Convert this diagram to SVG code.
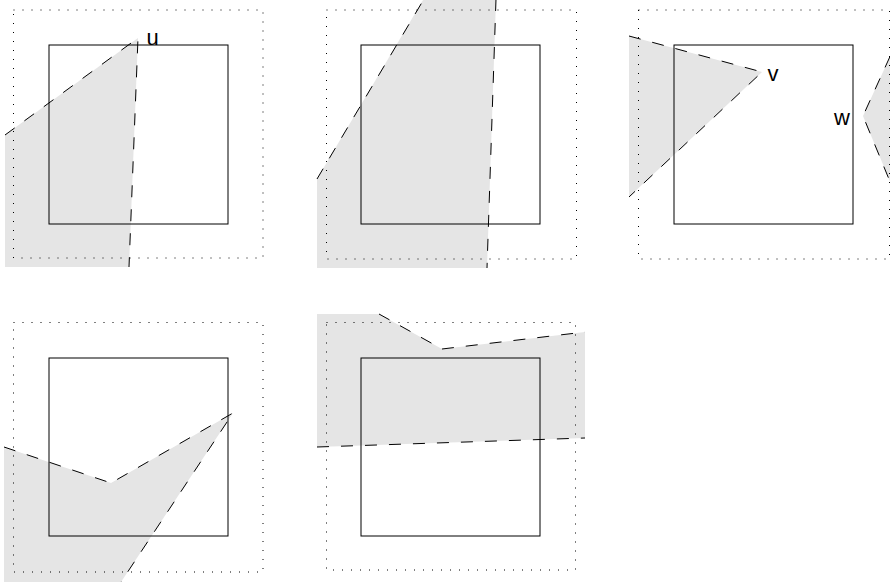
<svg xmlns="http://www.w3.org/2000/svg" width="890" height="582" viewBox="0 0 890 582">
<style>
.bg{fill:#ffffff}
.reg{fill:#e5e5e5;stroke:none}
.dash{fill:none;stroke:#000;stroke-width:1;stroke-dasharray:12,12}
.dot{fill:none;stroke:#000;stroke-width:1;stroke-dasharray:1,8}
.box{fill:none;stroke:#000;stroke-width:1}
.lbl{font-family:"Liberation Sans",Arial,sans-serif;font-size:22px;fill:#000}
</style>
<rect class="bg" x="0" y="0" width="890" height="582"/>
<g id="panel1">
  <polygon class="reg" points="5,135 138,38 129,267 5,267"/>
  <rect class="dot" x="13.5" y="10" width="249.5" height="248"/>
  <rect class="box" x="49" y="45" width="179" height="179"/>
  <polyline class="dash" points="5,135 138,38 129,267"/>
  <text class="lbl" x="146.5" y="45">u</text>
</g>
<g id="panel2">
  <polygon class="reg" points="317,179 423,0 496,0 487,268 317,268"/>
  <rect class="dot" x="326.5" y="10" width="250" height="249"/>
  <rect class="box" x="361" y="45" width="179" height="179"/>
  <polyline class="dash" points="317,179 424,-1"/>
  <polyline class="dash" points="496,-1 487,268"/>
</g>
<g id="panel3">
  <polygon class="reg" points="629,36 762,72 629,197"/>
  <polygon class="reg" points="890,56.5 863,116 890,181.6"/>
  <rect class="dot" x="638.5" y="10" width="251" height="249"/>
  <rect class="box" x="674" y="45" width="179" height="179"/>
  <polyline class="dash" points="629,36 762,72 629,197"/>
  <polyline class="dash" points="890,56.5 863,116 890,181.6"/>
  <text class="lbl" x="767.5" y="81">v</text>
  <text class="lbl" x="834" y="125">w</text>
</g>
<g id="panel4">
  <polygon class="reg" points="4,447 111,483 233,413 121,582 4,582"/>
  <rect class="dot" x="13.5" y="322.5" width="249.5" height="249.5"/>
  <rect class="box" x="49" y="358" width="179" height="178"/>
  <polyline class="dash" points="4,447 111,483 233,413 121,582"/>
</g>
<g id="panel5">
  <polygon class="reg" points="317,314 379,314 442,349 585,332 585,438 317,447"/>
  <rect class="dot" x="326.5" y="322.5" width="249" height="247.5"/>
  <rect class="box" x="361" y="358" width="179" height="178"/>
  <polyline class="dash" points="379,314 442,349 585,332"/>
  <polyline class="dash" points="317,447 585,438"/>
</g>
</svg>
